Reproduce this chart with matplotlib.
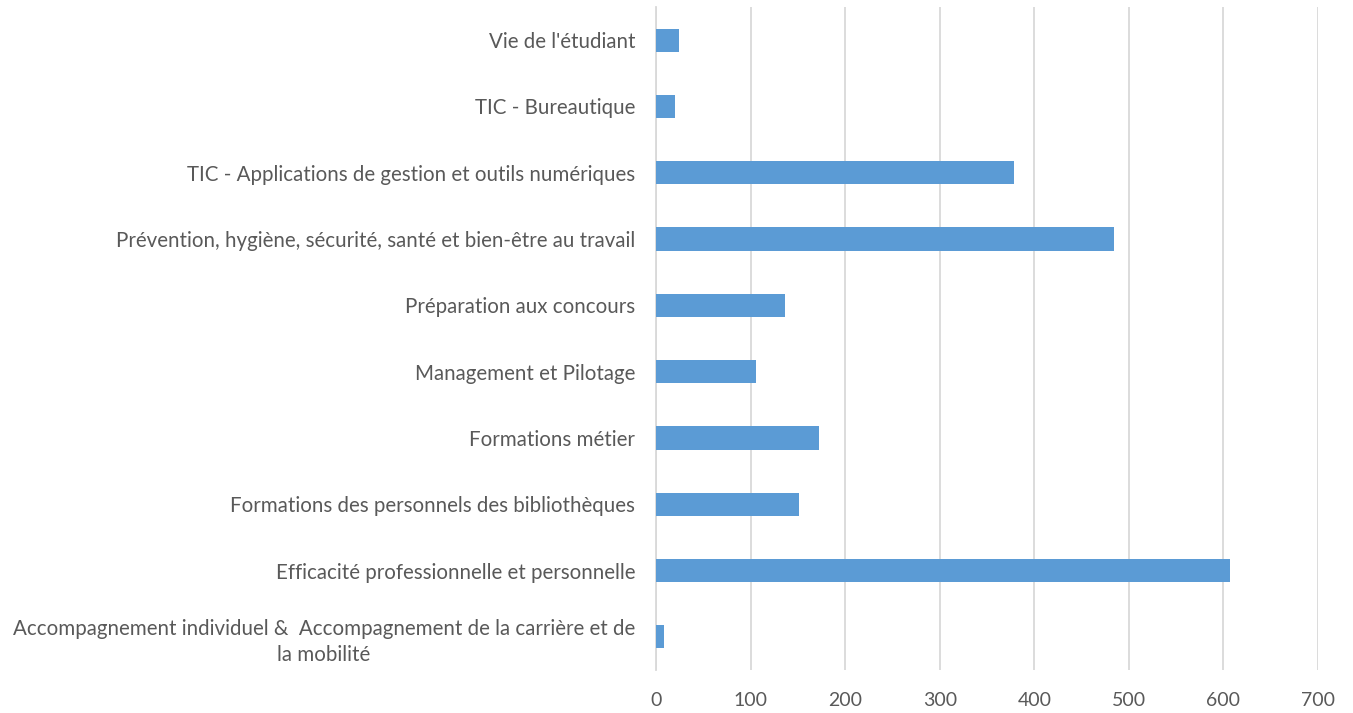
import matplotlib
matplotlib.use('Agg')
from matplotlib import pyplot as plt

categories = [
    "Accompagnement individuel &  Accompagnement de la carrière et de\nla mobilité",
    "Efficacité professionnelle et personnelle",
    "Formations des personnels des bibliothèques",
    "Formations métier",
    "Management et Pilotage",
    "Préparation aux concours",
    "Prévention, hygiène, sécurité, santé et bien-être au travail",
    "TIC - Applications de gestion et outils numériques",
    "TIC - Bureautique",
    "Vie de l'étudiant",
]
values = [8, 607, 151, 172, 106, 136, 484, 379, 20, 24]
x_ticks = [0, 100, 200, 300, 400, 500, 600, 700]

plt.rcParams['font.family'] = ['Lato', 'DejaVu Sans']
text_color = '#595959'

fig = plt.figure(figsize=(13.53, 7.13), dpi=100)
ax = fig.add_axes([0.4849, 0.0603, 0.4892, 0.9299])

ax.barh(range(len(categories)), values, height=0.35, color='#5B9BD5',
        zorder=3)

ax.set_xlim(0, 700)
ax.set_ylim(-0.5, len(categories) - 0.5)
ax.set_xticks(x_ticks)
ax.set_yticks(range(len(categories)))
ax.set_yticklabels(categories, multialignment='center', linespacing=1.4)
ax.xaxis.grid(True, color='#D9D9D9', linewidth=1.3, zorder=0)
ax.set_axisbelow(True)
for side in ['top', 'right', 'bottom', 'left']:
    ax.spines[side].set_visible(False)
ax.spines['left'].set_visible(True)
ax.spines['left'].set_color('#D9D9D9')
ax.spines['left'].set_linewidth(1.3)
ax.tick_params(axis='both', length=0, colors=text_color)
ax.tick_params(axis='y', pad=15, labelsize=14.8)
ax.tick_params(axis='x', pad=16, labelsize=14)

fig.savefig('out.png', dpi=100)
